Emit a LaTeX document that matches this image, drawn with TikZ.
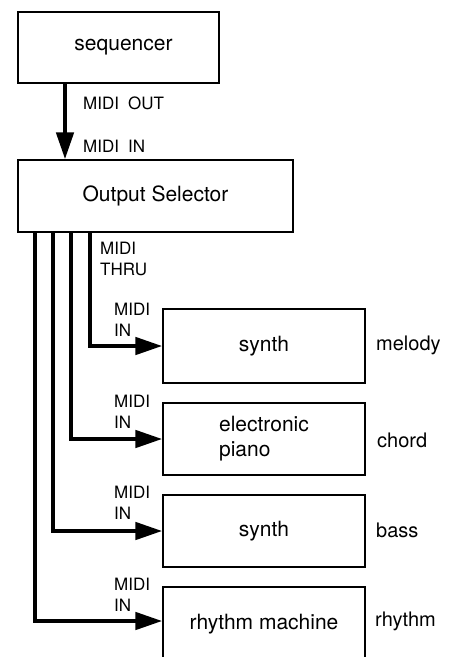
\documentclass[tikz,border=0pt]{standalone}
\usepackage{fontspec}
\setmainfont{TeX Gyre Heros}
\usetikzlibrary{arrows.meta}
\begin{document}
\begin{tikzpicture}[x=1pt,y=-1pt,
  box/.style={draw,line width=1.2pt,inner sep=0pt,font=\fontsize{21}{25}\selectfont},
  lbl/.style={anchor=west,inner sep=0pt,align=left,font=\fontsize{17}{21}\selectfont},
  side/.style={anchor=west,inner sep=0pt,font=\fontsize{20}{24}\selectfont},
  wire/.style={line width=4.5pt,-{Triangle[length=27pt,width=17pt]}}]
\useasboundingbox (0,0) rectangle (451,657);
\clip (0,0) rectangle (451,657);
% boxes
\node[box,minimum width=201pt,minimum height=71pt] (seq) at (118.5,47.5) {\hspace{10pt}sequencer};
\node[box,minimum width=275pt,minimum height=72pt] (sel) at (155.5,196) {Output Selector};
\node[box,minimum width=202pt,minimum height=74pt] (s1) at (264,346) {synth};
\node[box,minimum width=202pt,minimum height=72pt,align=left] (s2) at (264,439) {electronic\\piano};
\node[box,minimum width=202pt,minimum height=72pt] (s3) at (264,531) {synth};
\node[box,minimum width=202pt,minimum height=74pt] (s4) at (264,624) {rhythm machine};
% side labels
\node[side] (l1) at (376,345) {melody};
\node[side] (l2) at (377,440) {chord};
\node[side] (l3) at (376,530) {bass};
\node[side] (l4) at (375,621) {rhythm};
% connector labels
\node[lbl] (mo) at (83,103) {MIDI\hspace{0.25em} OUT};
\node[lbl] (mi) at (83,146) {MIDI\hspace{0.25em} IN};
\node[lbl] (mt) at (100,259) {MIDI\\THRU};
\node[lbl] (i1) at (114,320) {MIDI\\IN};
\node[lbl] (i2) at (114,412) {MIDI\\IN};
\node[lbl] (i3) at (114,503) {MIDI\\IN};
\node[lbl] (i4) at (114,595) {MIDI\\IN};
% connectors
\draw[wire] (seq.south -| 65,0) -- (sel.north -| 65,0);
\draw[wire] (sel.south -| 90,0) |- (s1.west);
\draw[wire] (sel.south -| 71,0) |- (s2.west);
\draw[wire] (sel.south -| 53,0) |- (s3.west);
\draw[wire] (sel.south -| 35,0) |- ([yshift=3pt]s4.west);
\end{tikzpicture}
\end{document}
